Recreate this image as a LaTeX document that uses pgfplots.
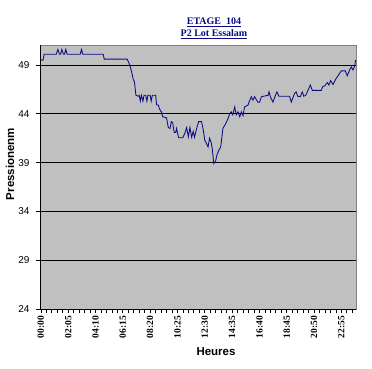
\documentclass[border=0pt]{standalone}
\usepackage{fontspec}
\setmainfont{Liberation Serif}
\setsansfont{Liberation Sans}
\usepackage{pgfplots}
\pgfplotsset{compat=1.18}
\definecolor{navy}{RGB}{10,10,135}
\definecolor{plotgray}{RGB}{192,192,192}
\definecolor{bordergray}{RGB}{128,128,128}
\begin{document}
\begin{tikzpicture}
\path[use as bounding box, fill=white] (-40pt,-59pt) rectangle (332pt,309pt);
\begin{axis}[
  scale only axis, width=316pt, height=264pt,
  xmin=-4, xmax=1442, ymin=24, ymax=51.05,
  axis background/.style={fill=plotgray, draw=bordergray, line width=0.8pt},
  axis x line*=bottom, axis y line*=left,
  axis line style={black, line width=0.8pt, -},
  tick align=outside,
  major tick length=4pt, minor tick length=4pt,
  tick style={black, line width=0.7pt},
  ytick={24,29,34,39,44,49},
  ymajorgrids, grid style={black, line width=0.8pt},
  xtick={0,125,250,375,500,625,750,875,1000,1125,1250,1375},
  xticklabels={00:00,02:05,04:10,06:15,08:20,10:25,12:30,14:35,16:40,18:45,20:50,22:55},
  minor xtick={25,50,...,1425},
  xticklabel style={font=\fontsize{9.5}{10}\selectfont\bfseries, rotate=90, anchor=east, xshift=0.5pt},
  yticklabel style={font=\fontsize{10}{11}\sffamily, xshift=-3pt},
  /pgf/number format/assume math mode=true,
  clip=false,
]
\addplot[navy, line width=0.85pt] coordinates {
(0,49.5) (10,49.5) (15,50.1) (70,50.1) (78,50.6) (85,50.1) (90,50.1) (96,50.6) (103,50.1)
(108,50.1) (114,50.6) (120,50.1) (180,50.1) (186,50.6) (192,50.1) (285,50.1) (290,49.6)
(395,49.6) (407,49.0) (415,48.3) (423,47.5) (428,47.3) (435,45.9) (445,45.8) (450,45.9)
(455,45.3) (460,45.9) (467,45.3) (472,45.9) (480,45.9) (485,45.3) (490,45.9) (500,45.9)
(505,45.3) (510,45.9) (525,45.9) (530,44.9) (537,44.9) (545,44.4) (552,44.2) (557,43.7)
(575,43.6) (583,42.6) (591,42.5) (597,43.2) (603,43.1) (610,42.1) (617,42.1) (621,42.5)
(630,41.55) (649,41.55) (659,42.0) (667,42.6) (675,41.65) (682,42.6) (690,41.6) (697,42.2)
(703,41.6) (714,42.6) (722,43.2) (735,43.2) (742,42.5) (750,41.3) (757,41.0) (765,40.6)
(772,41.5) (780,41.0) (785,40.3) (791,38.9) (800,39.2) (806,39.8) (815,40.3) (823,40.6)
(833,42.5) (846,43.0) (856,43.5) (864,44.0) (871,44.2) (878,43.9) (887,44.7) (894,43.9)
(902,44.2) (910,43.7) (918,44.2) (925,43.8) (932,44.7) (948,44.9) (955,45.35) (963,45.75)
(970,45.4) (978,45.75) (993,45.2) (1001,45.2) (1009,45.75) (1040,45.9) (1044,46.25)
(1050,45.75) (1062,45.2) (1070,45.7) (1080,46.25) (1089,45.8) (1138,45.8) (1146,45.2)
(1161,46.1) (1168,46.25) (1175,45.8) (1187,45.75) (1196,46.25) (1203,45.8) (1212,45.9)
(1222,46.4) (1233,46.95) (1242,46.4) (1283,46.4) (1290,46.8) (1298,46.85) (1311,47.2)
(1318,46.95) (1326,47.4) (1337,47.0) (1348,47.5) (1357,47.8) (1367,48.15) (1375,48.4)
(1393,48.4) (1402,47.9) (1413,48.5) (1420,48.8) (1428,48.5) (1436,48.9) (1440,49.5)
};
\end{axis}
\node[anchor=base, text=navy, font=\fontsize{10}{12}\selectfont\bfseries, inner sep=0pt] at (174pt,284.7pt) {\underline{ETAGE~~104}};
\node[anchor=base, text=navy, font=\fontsize{10}{12}\selectfont\bfseries, inner sep=0pt] at (174pt,272.3pt) {\underline{P2 Lot Essalam}};
\node[font=\fontsize{11.5}{13}\sffamily\bfseries] at (176pt,-43pt) {Heures};
\node[rotate=90, font=\fontsize{11.5}{13}\sffamily\bfseries] at (-30pt,145pt) {Pressionenm};
\end{tikzpicture}
\end{document}
